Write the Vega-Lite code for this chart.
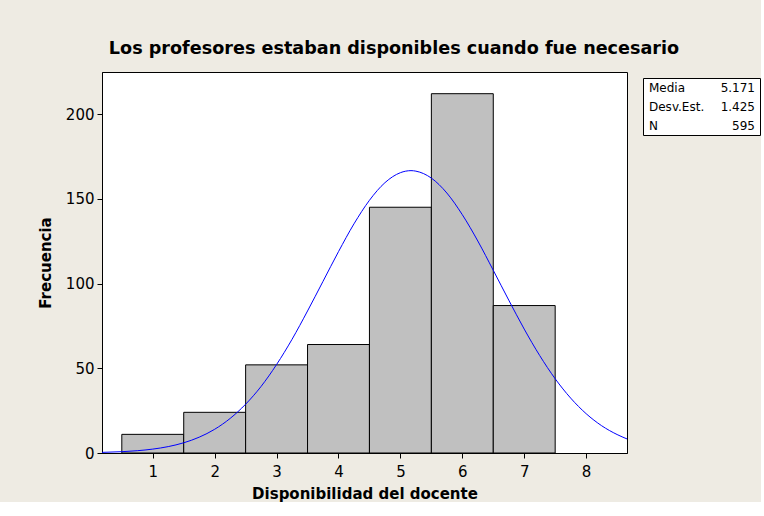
{
  "$schema": "https://vega.github.io/schema/vega-lite/v6.json",
  "background": "#EEEBE3",
  "padding": {"left": 37, "top": 39, "right": 0, "bottom": 0},
  "title": {"text": "Los profesores estaban disponibles cuando fue necesario", "font": "DejaVu Sans", "fontSize": 17.6, "fontWeight": "bold", "color": "#000000", "anchor": "start", "dx": 71, "offset": 14},
  "config": {
    "font": "DejaVu Sans",
    "view": {"stroke": null},
    "axis": {"labelColor": "#000000", "titleColor": "#000000", "domainColor": "#000000", "tickColor": "#000000", "grid": false, "labelFont": "DejaVu Sans", "titleFont": "DejaVu Sans"}
  },
  "datasets": {
    "bars": [
      {"x0": 0.5, "x1": 1.5, "count": 11},
      {"x0": 1.5, "x1": 2.5, "count": 24},
      {"x0": 2.5, "x1": 3.5, "count": 52},
      {"x0": 3.5, "x1": 4.5, "count": 64},
      {"x0": 4.5, "x1": 5.5, "count": 145},
      {"x0": 5.5, "x1": 6.5, "count": 212},
      {"x0": 6.5, "x1": 7.5, "count": 87}
    ],
    "curve": [
      {"x": 0.18, "y": 0.37}, {"x": 0.5, "y": 0.77}, {"x": 0.75, "y": 1.35}, {"x": 1.0, "y": 2.3},
      {"x": 1.25, "y": 3.78}, {"x": 1.5, "y": 6.03}, {"x": 1.75, "y": 9.33}, {"x": 2.0, "y": 14.0},
      {"x": 2.25, "y": 20.4}, {"x": 2.5, "y": 28.8}, {"x": 2.75, "y": 39.3}, {"x": 3.0, "y": 52.2},
      {"x": 3.25, "y": 67.1}, {"x": 3.5, "y": 83.8}, {"x": 3.75, "y": 101.3}, {"x": 4.0, "y": 118.8},
      {"x": 4.25, "y": 135.2}, {"x": 4.5, "y": 149.1}, {"x": 4.75, "y": 159.5}, {"x": 5.0, "y": 165.4},
      {"x": 5.171, "y": 166.6}, {"x": 5.25, "y": 166.3}, {"x": 5.5, "y": 162.2}, {"x": 5.75, "y": 153.4},
      {"x": 6.0, "y": 140.6}, {"x": 6.25, "y": 125.1}, {"x": 6.5, "y": 107.8}, {"x": 6.75, "y": 90.2},
      {"x": 7.0, "y": 73.1}, {"x": 7.25, "y": 57.5}, {"x": 7.5, "y": 43.8}, {"x": 7.75, "y": 32.4},
      {"x": 8.0, "y": 23.2}, {"x": 8.25, "y": 16.1}, {"x": 8.5, "y": 10.9}, {"x": 8.66, "y": 8.3}
    ],
    "stats": [
      {"row": 1, "label": "Media", "value": "5.171"},
      {"row": 2, "label": "Desv.Est.", "value": "1.425"},
      {"row": 3, "label": "N", "value": "595"}
    ]
  },
  "hconcat": [
    {
      "width": 525,
      "height": 381,
      "view": {"stroke": "#000000", "fill": "#FFFFFF", "strokeWidth": 1},
      "layer": [
        {
          "mark": {"type": "rect", "fill": "#C0C0C0", "stroke": "#000000", "strokeWidth": 1},
          "data": {"name": "bars"},
          "encoding": {
            "x": {"field": "x0", "type": "quantitative", "scale": {"domain": [0.18, 8.66], "nice": false, "zero": false},
              "axis": {"values": [1, 2, 3, 4, 5, 6, 7, 8], "format": "d", "title": "Disponibilidad del docente", "titleFontSize": 15, "titleFontWeight": "bold", "labelFontSize": 15, "tickSize": 5, "labelPadding": 6, "titlePadding": 7}},
            "x2": {"field": "x1"},
            "y": {"field": "count", "type": "quantitative", "scale": {"domain": [0, 224.8], "nice": false},
              "axis": {"values": [0, 50, 100, 150, 200], "title": "Frecuencia", "titleFontSize": 15, "titleFontWeight": "bold", "labelFontSize": 15, "tickSize": 5, "labelPadding": 3, "titlePadding": 12}},
            "y2": {"datum": 0}
          }
        },
        {
          "mark": {"type": "line", "color": "#0000FF", "strokeWidth": 1, "interpolate": "monotone"},
          "data": {"name": "curve"},
          "encoding": {
            "x": {"field": "x", "type": "quantitative"},
            "y": {"field": "y", "type": "quantitative"}
          }
        }
      ]
    },
    {
      "spacing": 4,
      "vconcat": [
        {
          "width": 117,
          "height": 1,
          "data": {"values": []},
          "mark": {"type": "point", "opacity": 0},
          "encoding": {}
        },
        {
          "width": 117,
          "height": 57,
          "view": {"stroke": "#000000", "fill": "#FFFFFF", "strokeWidth": 1},
          "data": {"name": "stats"},
          "layer": [
            {
              "mark": {"type": "text", "align": "left", "font": "DejaVu Sans", "fontSize": 12, "color": "#000000", "dx": 6},
              "encoding": {
                "x": {"datum": 0, "type": "quantitative", "scale": {"domain": [0, 1]}, "axis": null},
                "y": {"field": "row", "type": "ordinal", "axis": null, "scale": {"paddingOuter": 0.2}},
                "text": {"field": "label"}
              }
            },
            {
              "mark": {"type": "text", "align": "right", "font": "DejaVu Sans", "fontSize": 12, "color": "#000000", "dx": -5},
              "encoding": {
                "x": {"datum": 1, "type": "quantitative"},
                "y": {"field": "row", "type": "ordinal"},
                "text": {"field": "value"}
              }
            }
          ]
        }
      ]
    }
  ],
  "spacing": 12
}
